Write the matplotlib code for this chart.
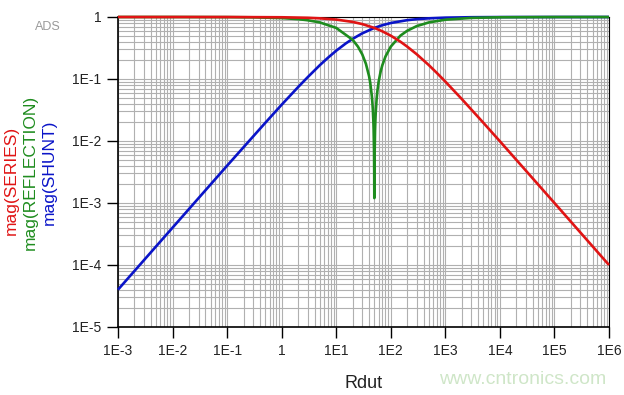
import matplotlib
matplotlib.use("Agg")
import matplotlib.pyplot as plt
from matplotlib.ticker import LogLocator, FixedLocator, NullFormatter

plt.rcParams['font.family'] = ['Liberation Sans', 'DejaVu Sans']

# Series values (Rdut in ohms)
series_x = [1e-3, 1e-2, 1e-1, 1, 3, 5, 10, 20, 30, 50, 70, 100, 150, 200, 300, 500, 700,
            1e3, 2e3, 5e3, 1e4, 3e4, 1e5, 3e5, 1e6]
series_y = [1.0, 1.0, 0.999, 0.990, 0.971, 0.952, 0.909, 0.833, 0.769, 0.667, 0.588, 0.5,
            0.4, 0.333, 0.25, 0.167, 0.125, 0.0909, 0.0476, 0.0196, 0.0099, 0.00332,
            0.001, 0.000333, 0.0001]

reflection_x = [1e-3, 1e-2, 0.1, 0.3, 1, 2, 3, 5, 10, 20, 25, 30, 35, 40, 42, 45, 46, 47,
                48, 48.5, 49.3, 49.7, 49.88, 50.12, 50.3, 50.7, 51.5, 52, 53, 55, 57, 60,
                65, 70, 80, 100, 150, 200, 300, 500, 1e3, 3e3, 1e4, 1e5, 1e6]
reflection_y = [1.0, 1.0, 0.996, 0.988, 0.961, 0.923, 0.887, 0.818, 0.667, 0.4286, 0.333,
                0.25, 0.176, 0.111, 0.087, 0.0526, 0.0417, 0.0309, 0.0204, 0.0152, 0.00704,
                0.00301, 0.0012, 0.0012, 0.003, 0.00695, 0.0148, 0.0196, 0.0291, 0.0476,
                0.0654, 0.0909, 0.1304, 0.1667, 0.2308, 0.333, 0.5, 0.6, 0.714, 0.818,
                0.905, 0.967, 0.990, 0.999, 1.0]

shunt_x = [1e-3, 1e-2, 1e-1, 0.5, 1, 2, 3, 5, 7, 10, 15, 20, 30, 50, 70, 100, 200, 300,
           500, 1e3, 3e3, 1e4, 1e5, 1e6]
shunt_y = [4e-5, 4e-4, 0.004, 0.0196, 0.0385, 0.074, 0.107, 0.167, 0.219, 0.286, 0.375,
           0.444, 0.545, 0.667, 0.737, 0.8, 0.889, 0.923, 0.952, 0.976, 0.992, 0.9975,
           1.0, 1.0]

x_ticks = [1e-3, 1e-2, 1e-1, 1, 1e1, 1e2, 1e3, 1e4, 1e5, 1e6]
x_labels = ["1E-3", "1E-2", "1E-1", "1", "1E1", "1E2", "1E3", "1E4", "1E5", "1E6"]
y_ticks = [1e-5, 1e-4, 1e-3, 1e-2, 1e-1, 1]
y_labels = ["1E-5", "1E-4", "1E-3", "1E-2", "1E-1", "1"]

fig = plt.figure(figsize=(6.24, 3.95), dpi=100)
ax = fig.add_axes([118/624, 1-327/395, (609-118)/624, (327-17)/395])
ax.set_xscale('log')
ax.set_yscale('log')
ax.set_xlim(1e-3, 1e6)
ax.set_ylim(1e-5, 1)

ax.plot(shunt_x, shunt_y, color='#0a14c8', lw=1.9, solid_capstyle='butt', zorder=3, clip_on=False)
ax.plot(reflection_x, reflection_y, color='#1e8c1e', lw=1.9, solid_capstyle='butt', zorder=4, clip_on=False)
ax.plot(series_x, series_y, color='#e01414', lw=1.9, solid_capstyle='butt', zorder=5, clip_on=False)

ax.xaxis.set_major_locator(FixedLocator(x_ticks))
ax.set_xticklabels(x_labels)
ax.yaxis.set_major_locator(FixedLocator(y_ticks))
ax.set_yticklabels(y_labels)
ax.xaxis.set_minor_locator(LogLocator(base=10, subs=range(2, 10), numticks=100))
ax.yaxis.set_minor_locator(LogLocator(base=10, subs=range(2, 10), numticks=100))
ax.xaxis.set_minor_formatter(NullFormatter())
ax.yaxis.set_minor_formatter(NullFormatter())
ax.tick_params(which='major', direction='out', length=8, width=1, colors='black',
               labelsize=10, pad=4, labelcolor='#222222')
ax.tick_params(which='minor', length=0)
ax.grid(which='both', color='#b0b0b0', lw=0.8, zorder=1)
ax.set_axisbelow(True)
for s in ['left', 'bottom']:
    ax.spines[s].set_linewidth(1.2)
for s in ['top', 'right']:
    ax.spines[s].set_linewidth(0.8)

fig.text(48/624, 1-27/395, "ADS", color='#9a9a9a', fontsize=9, ha='center', va='center')
fig.text(11/624, 1-180/395, "mag(SERIES)", color='#e01414', fontsize=12.5, rotation=90,
         ha='center', va='center')
fig.text(30/624, 1-172/395, "mag(REFLECTION)", color='#1e8c1e', fontsize=12.5, rotation=90,
         ha='center', va='center')
fig.text(49/624, 1-172/395, "mag(SHUNT)", color='#0a14c8', fontsize=12.5, rotation=90,
         ha='center', va='center')
fig.text(364/624, 1-383/395, "Rdut", color='#222222', fontsize=13, ha='center', va='center')
fig.text(523/624, 1-380/395, "www.cntronics.com", color='#cfe6c8', fontsize=14,
         ha='center', va='center')

fig.savefig("out.png", dpi=100)
